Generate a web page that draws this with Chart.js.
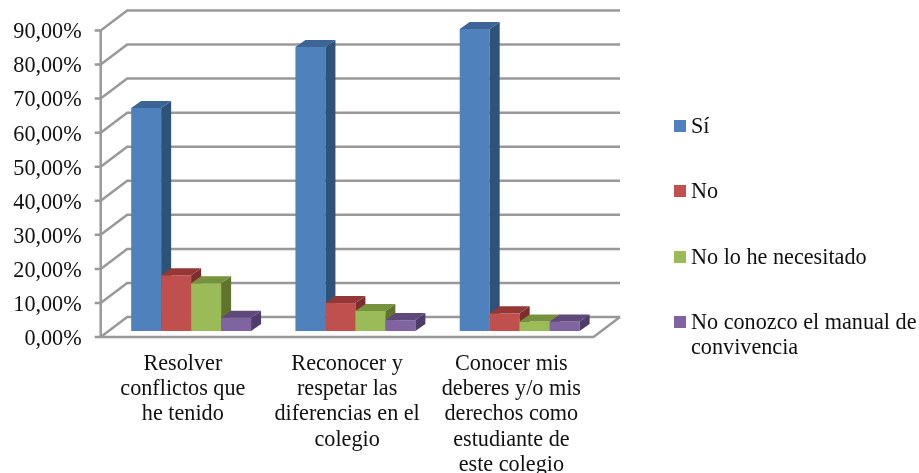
<!DOCTYPE html>
<html><head><meta charset="utf-8">
<style>html,body{margin:0;padding:0;background:#fff}canvas{display:block}</style>
<script src="https://cdn.jsdelivr.net/npm/chart.js@4"></script>
</head><body><canvas id="c" width="919" height="473"></canvas>
<script>
const categories = [
  ['Resolver','conflictos que','he tenido'],
  ['Reconocer y','respetar las','diferencias en el','colegio'],
  ['Conocer mis','deberes y/o mis','derechos como','estudiante de','este colegio']
];
const si = [65.5, 83.4, 88.7];
const no = [16.4, 8.2, 5.2];
const noNecesitado = [14.0, 5.9, 2.8];
const noConozco = [3.9, 3.2, 2.8];
const yMax = 90, yStep = 10;
const seriesNames = ['Sí','No','No lo he necesitado',['No conozco el manual de','convivencia']];
const front = ['#4F81BD','#C0504D','#9BBB59','#8064A2'];
const topFace = ['#3C6494','#953735','#76923C','#5F497A'];
const sideFace = ['#2F5279','#7B2E2C','#5F752E','#4E3D69'];
const FONT = '"Liberation Serif", serif';
const FS = 22.2;
const TXT = '#111111';
const grid = '#999999';
const LIFT = 2;                   // tick labels sit this far below their gridlines
const D = {dx:26.5, dy:-20};      // wall depth
const B = {dx:8.3, dy:-6-LIFT};   // bars' offset from the scale plane
const BD = {dx:10, dy:-7};        // bar depth

const plugin3d = {
  id:'plugin3d',
  beforeDatasetsDraw(chart){
    const {ctx, chartArea:a, scales:{y}} = chart;
    ctx.save();
    ctx.strokeStyle = grid; ctx.lineWidth = 2.5;
    ctx.beginPath();
    for(let v=0; v<=yMax; v+=yStep){
      const p = y.getPixelForValue(v)-LIFT;
      ctx.moveTo(a.left-6,p); ctx.lineTo(a.left,p);
      ctx.lineTo(a.left+D.dx,p+D.dy); ctx.lineTo(a.right+D.dx,p+D.dy);
    }
    const b = y.getPixelForValue(0)-LIFT;
    ctx.moveTo(a.left,y.getPixelForValue(yMax)-LIFT); ctx.lineTo(a.left,b);
    ctx.moveTo(a.left,b); ctx.lineTo(a.right,b); ctx.lineTo(a.right+D.dx,b+D.dy);
    ctx.stroke();
    ctx.restore();
  },
  beforeDatasetDraw(){ return false; },
  afterDatasetsDraw(chart){
    const ctx = chart.ctx;
    ctx.save();
    ctx.translate(B.dx,B.dy);
    chart.getSortedVisibleDatasetMetas().slice().sort((p,q)=>p.index-q.index).forEach(meta=>{
      const i = meta.index;
      meta.controller.draw();
      meta.data.forEach(el=>{
        const l = el.x-el.width/2, r = el.x+el.width/2, t = el.y, b = el.base;
        ctx.fillStyle = sideFace[i];
        ctx.beginPath(); ctx.moveTo(r,t); ctx.lineTo(r+BD.dx,t+BD.dy); ctx.lineTo(r+BD.dx,b+BD.dy); ctx.lineTo(r,b); ctx.closePath(); ctx.fill();
        ctx.fillStyle = topFace[i];
        ctx.beginPath(); ctx.moveTo(l,t); ctx.lineTo(l+BD.dx,t+BD.dy); ctx.lineTo(r+BD.dx,t+BD.dy); ctx.lineTo(r,t); ctx.closePath(); ctx.fill();
      });
    });
    ctx.restore();
  },
  afterDraw(chart){
    const ctx = chart.ctx;
    const swY = [120,185,251,316];
    ctx.save();
    ctx.font = FS+'px '+FONT; ctx.textBaseline='middle'; ctx.textAlign='left';
    seriesNames.forEach((n,i)=>{
      ctx.fillStyle = front[i]; ctx.fillRect(674,swY[i],12,12);
      ctx.fillStyle = TXT;
      [].concat(n).forEach((ln,k)=>ctx.fillText(ln,691,swY[i]+7+k*25.4));
    });
    ctx.restore();
  }
};

const series = [si,no,noNecesitado,noConozco];
new Chart(document.getElementById('c'),{
  type:'bar',
  data:{labels:categories,datasets:series.map((d,i)=>({
    label:[].concat(seriesNames[i]).join(' '),data:d,backgroundColor:front[i],
    categoryPercentage:0.73,barPercentage:1,borderWidth:0,clip:false
  }))},
  options:{
    responsive:false,animation:false,devicePixelRatio:1,
    layout:{padding:{left:0,top:30.5+LIFT,right:325.5,bottom:0}},
    plugins:{legend:{display:false},tooltip:{enabled:false},title:{display:false}},
    scales:{
      x:{grid:{display:false,drawTicks:false},border:{display:false},
         afterFit(s){s.height=136-LIFT;},
         ticks:{autoSkip:false,maxRotation:0,minRotation:0,padding:12,color:TXT,
                font:{family:FONT,size:FS,lineHeight:1.145}}},
      y:{min:0,max:yMax,grid:{display:false,drawTicks:false},border:{display:false},
         afterFit(s){s.width=100.7;},
         ticks:{stepSize:yStep,padding:19,color:TXT,
                font:{family:FONT,size:FS},
                callback:v=>v.toFixed(2).replace('.',',')+'%'}}
    }
  },
  plugins:[plugin3d]
});
</script></body></html>
